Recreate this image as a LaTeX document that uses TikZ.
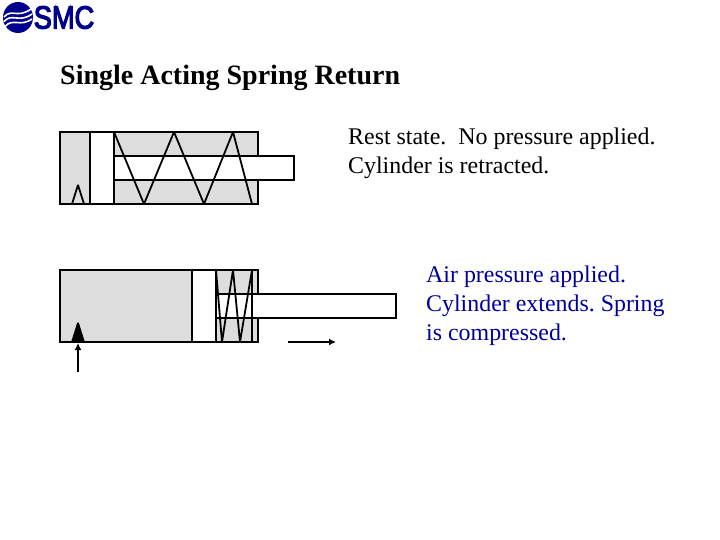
\documentclass[tikz,border=0pt]{standalone}
\usepackage{fontspec}
\usetikzlibrary{arrows.meta}
\setmainfont{Liberation Serif}
\newfontfamily\logofont[FakeBold=4]{Liberation Sans}
\definecolor{barrelgray}{RGB}{221,221,221}
\definecolor{smcblue}{RGB}{0,0,140}
\definecolor{noteblue}{RGB}{0,0,153}
\tikzset{
  barrel/.style={draw, line width=1.7pt, fill=barrelgray, rectangle, minimum width=198pt, minimum height=72pt, inner sep=0pt, outer sep=0pt},
  piston/.style={draw, line width=1.7pt, fill=white, rectangle, minimum width=24pt, minimum height=72pt, inner sep=0pt, outer sep=0pt},
  rod/.style={draw, line width=1.7pt, fill=white, rectangle, minimum width=180pt, minimum height=24pt, inner sep=0pt, outer sep=0pt},
  spring/.style={line width=1.8pt, line join=bevel},
  note/.style={align=left, anchor=north west, inner sep=0pt, font=\frenchspacing\fontsize{23.9}{29}\selectfont},
  flow/.style={-{Latex[length=7pt,width=7pt]}, line width=1.4pt},
}
\begin{document}
\begin{tikzpicture}[x=1pt,y=-1pt]
\useasboundingbox (0,0) rectangle (720,540);
% logo
\fill[smcblue] (18,17.5) ellipse (15 and 15.5);
\draw[white, line width=1.6pt] (4,17) .. controls (12,8) and (17,19) .. (31,9);
\draw[white, line width=1.6pt] (4,21.5) .. controls (12,12.5) and (19,23.5) .. (32,14);
\draw[white, line width=1.6pt] (5,26.5) .. controls (13,17.5) and (20,27.5) .. (32,19);
\node[inner sep=0pt, text=smcblue, font=\logofont\fontsize{32}{32}\selectfont, xscale=0.85] (logo) at (64,17.5) {SMC};
% title
\node[anchor=west, inner sep=0pt, font=\bfseries\fontsize{28}{32}\selectfont] (title) at (60,78) {Single Acting Spring Return};
% rest state
\node[barrel] (a) at (159,168) {};
\draw[spring] (72,204) -- (78,185) -- (84,204);
\node[rod] (b) at (204,168) {};
\node[piston] (c) at (102,168) {};
\draw[spring] (114,132) -- (144,204) -- (174,132) -- (204,204) -- (233,132) -- (252,204);
\node[note] (d) at (348,127.5) {Rest state.\ \ No pressure applied.\\Cylinder is retracted.};
% air applied
\node[barrel] (e) at (159,306) {};
\fill[draw=black, line width=1.7pt, line join=bevel] (72,342) -- (78,323) -- (84,342) -- cycle;
\node[rod] (f) at (306,306) {};
\node[piston] (g) at (204,306) {};
\draw[spring] (216,270) -- (222,342) -- (233,270) -- (240,342) -- (252,270) -- (252,342);
\coordinate (h) at (78,372);
\coordinate (i) at (78,343);
\coordinate (j) at (288,342);
\coordinate (k) at (336,342);
\draw[flow] (h) -- (i);
\draw[flow] (j) -- (k);
\node[note, text=noteblue] (l) at (426,265.5) {Air pressure applied.\\Cylinder extends. Spring\\is compressed.};
\end{tikzpicture}
\end{document}
